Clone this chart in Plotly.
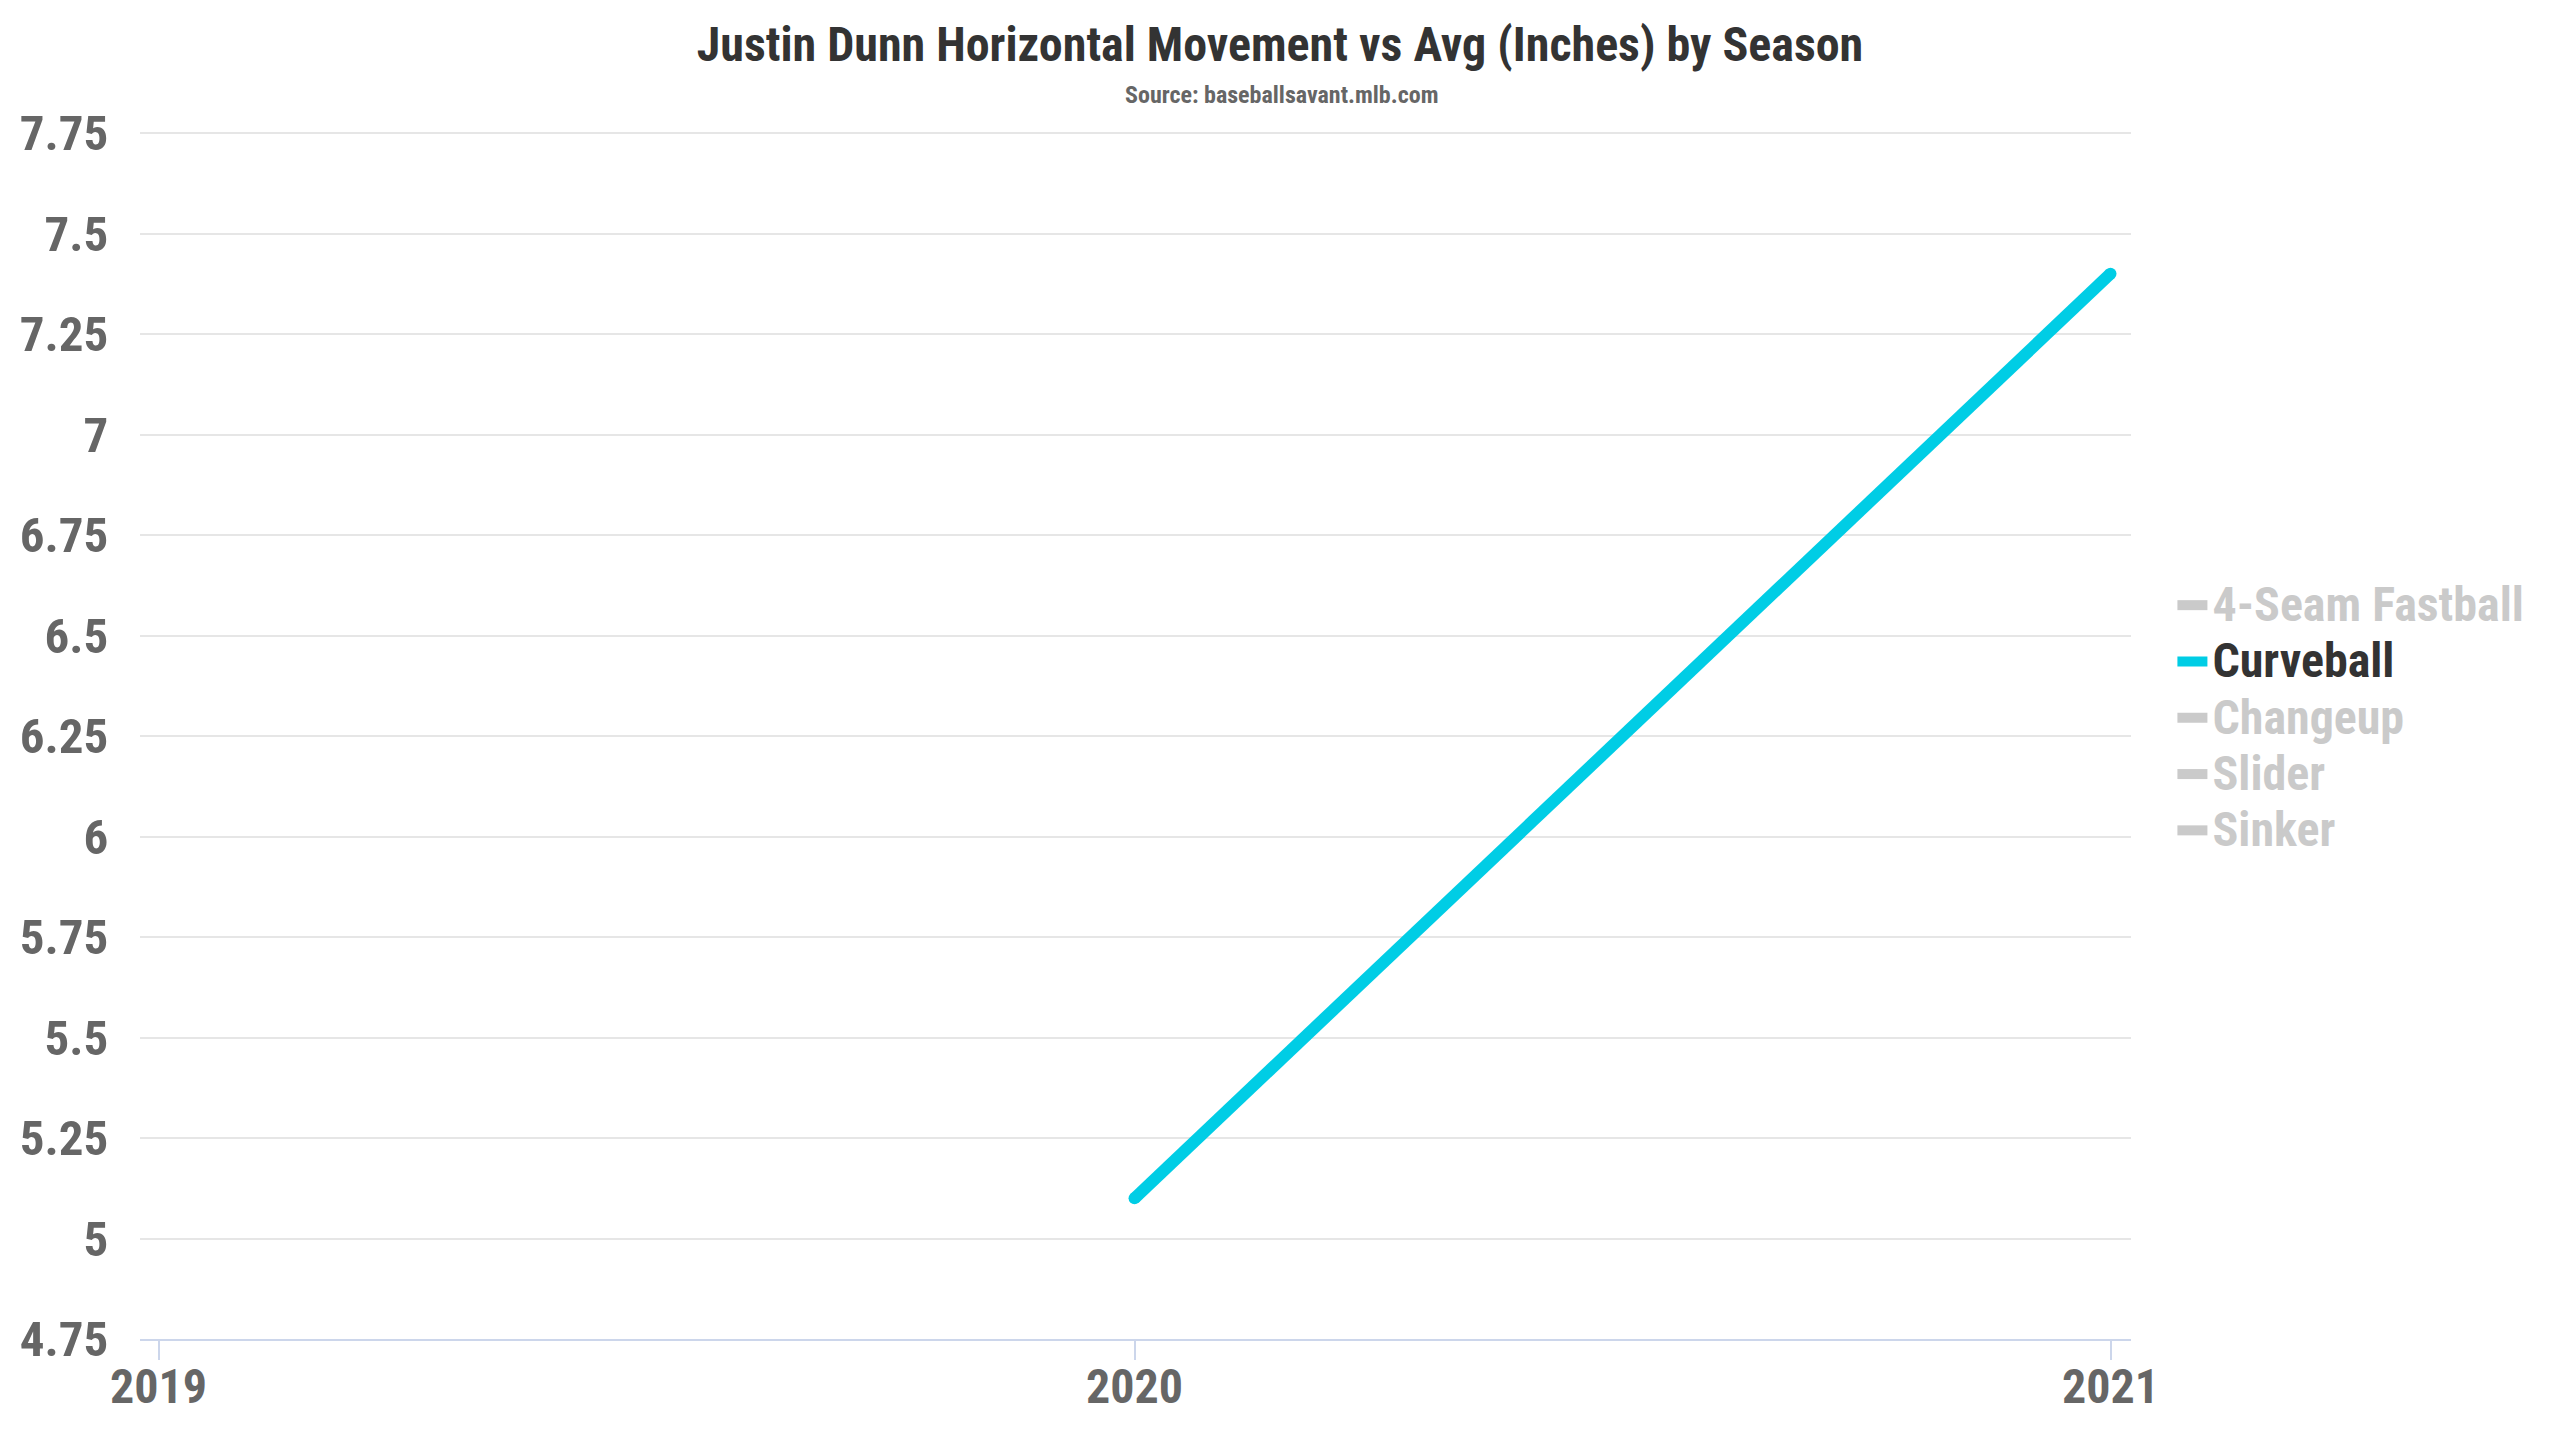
import plotly.graph_objects as go

seasons = [2019, 2020, 2021]
pitch_types = ["4-Seam Fastball", "Curveball", "Changeup", "Slider", "Sinker"]
curveball = [None, 5.1, 7.4]
hidden = [None, None, None]
y_ticks = [4.75, 5, 5.25, 5.5, 5.75, 6, 6.25, 6.5, 6.75, 7, 7.25, 7.5, 7.75]
y_tick_text = ["4.75", "5", "5.25", "5.5", "5.75", "6", "6.25", "6.5", "6.75", "7", "7.25", "7.5", "7.75"]
x_tick_text = ["2019", "2020", "2021"]

FONT = "Roboto Condensed, Liberation Sans Narrow, Roboto, sans-serif"
HIDDEN_COLOR = "#969696"
CURVE_COLOR = "#00cde5"

fig = go.Figure()
for name in pitch_types:
    if name == "Curveball":
        fig.add_trace(go.Scatter(
            x=seasons, y=curveball, name=f"<span style='font-size:48px'>{name}</span>",
            mode="lines",
            line=dict(color=CURVE_COLOR, width=12),
            connectgaps=False,
        ))
        # round line ends
        fig.add_trace(go.Scatter(
            x=seasons, y=curveball, mode="markers", showlegend=False, hoverinfo="skip",
            marker=dict(color=CURVE_COLOR, size=12, line=dict(width=0)),
        ))
    else:
        fig.add_trace(go.Scatter(
            x=seasons, y=hidden,
            name=f"<span style='color:{HIDDEN_COLOR};font-size:48px'>{name}</span>",
            mode="lines", visible="legendonly",
            line=dict(color=HIDDEN_COLOR, width=12),
        ))

# figure is offset by the page's 8px body margin; geometry compensates for it
fig.update_layout(
    width=2552, height=1432,
    autosize=False,
    paper_bgcolor="white", plot_bgcolor="white",
    margin=dict(l=128, r=429, t=121, b=101),
    font=dict(family=FONT, color="#333333", weight="bold"),
    title=dict(
        text="Justin Dunn Horizontal Movement vs Avg (Inches) by Season",
        x=1272 / 2552, xref="container", xanchor="center",
        y=1 - 36 / 1432, yref="container", yanchor="middle",
        font=dict(family=FONT, size=48, color="#333333", weight="bold"),
    ),
    annotations=[dict(
        text="Source: baseballsavant.mlb.com",
        x=(1272 - 128) / 1995, xref="paper", xanchor="center",
        y=1 + (121 - 87) / 1210, yref="paper", yanchor="middle",
        showarrow=False,
        font=dict(family=FONT, size=24, color="#666666", weight="bold"),
    )],
    showlegend=True,
    legend=dict(
        x=1.0208, xanchor="left", y=(1331 - 710) / 1210, yanchor="middle",
        font=dict(family=FONT, size=41, color="#333333", weight="bold"),
        bgcolor="rgba(0,0,0,0)",
        tracegroupgap=0,
        itemclick=False, itemdoubleclick=False,
    ),
    xaxis=dict(
        range=[2018.981, 2021.021],
        tickvals=seasons, ticktext=x_tick_text,
        showgrid=False, zeroline=False,
        showline=True, linecolor="#ccd6eb", linewidth=2,
        ticks="outside", ticklen=19, tickwidth=2, tickcolor="#ccd6eb",
        ticklabelstandoff=-15,
        tickfont=dict(family=FONT, size=48, color="#666666", weight="bold"),
    ),
    yaxis=dict(
        range=[4.75, 7.76],
        tickvals=y_ticks, ticktext=y_tick_text,
        showgrid=True, gridcolor="#e6e6e6", gridwidth=2,
        zeroline=False, showline=False,
        ticks="outside", ticklen=21, tickcolor="rgba(0,0,0,0)",
        tickfont=dict(family=FONT, size=49, color="#666666", weight="bold"),
    ),
)

fig.write_html("out.html")
